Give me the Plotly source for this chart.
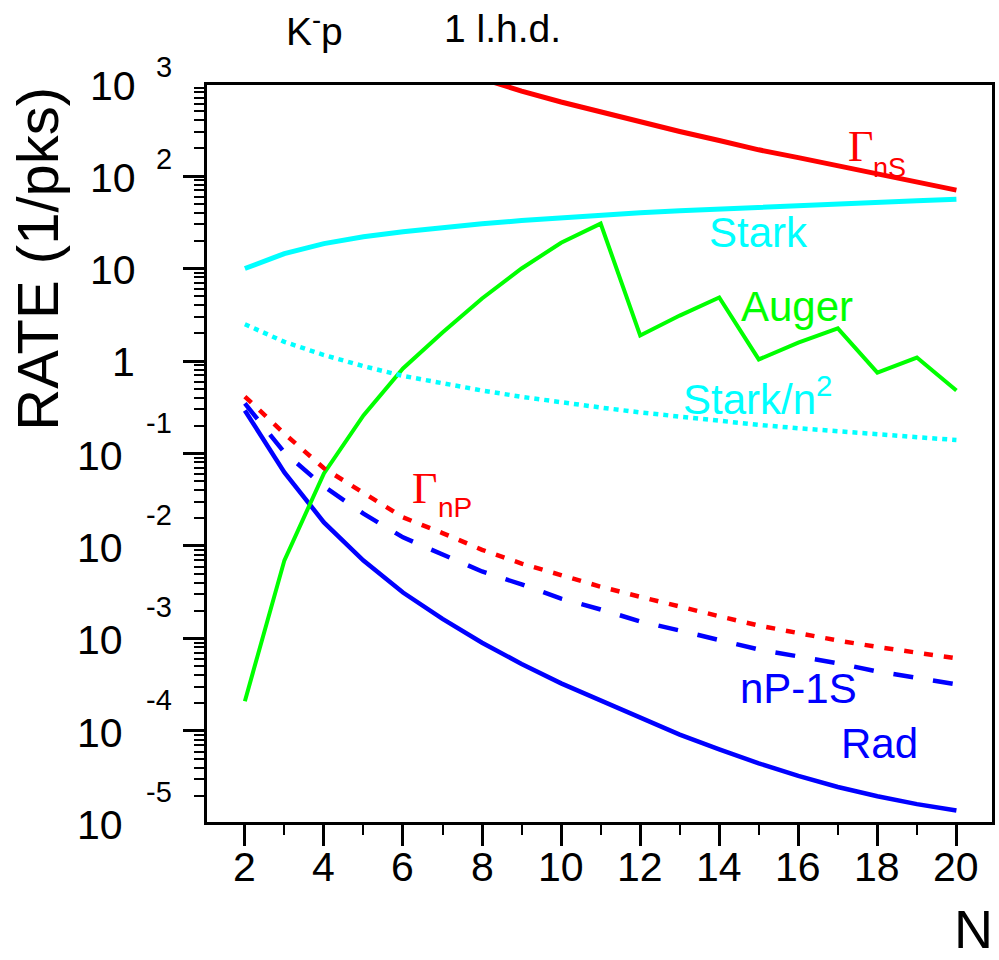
import plotly.graph_objects as go

# ---- data -------------------------------------------------------------
N = list(range(2, 21))

auger = [2.1e-4, 7.0e-3, 0.061, 0.258, 0.83, 2.03, 4.74, 10.0, 19.0, 30.6,
         1.89, 3.1, 4.86, 1.04, 1.58, 2.25, 0.75, 1.09, 0.48]
stark = [10.0, 14.5, 18.6, 22.0, 25.0, 28.0, 30.5, 33.0, 35.5, 38.0,
         40.0, 42.0, 44.0, 46.0, 48.0, 50.0, 52.0, 54.0, 56.0]
stark_over_n2 = [2.5, 1.61, 1.16, 0.88, 0.69, 0.57, 0.48, 0.41, 0.355, 0.314,
                 0.278, 0.249, 0.224, 0.204, 0.1875, 0.173, 0.160, 0.150, 0.140]
gamma_ns_N = list(range(8, 21))
gamma_ns = [1130, 827, 631, 492, 379, 303, 242, 192, 158, 129.5, 105.7, 86, 70.3]
gamma_np = [0.413, 0.164, 0.0692, 0.0372, 0.0204, 0.0138, 0.0091, 0.00646, 0.00479,
            0.00363, 0.00282, 0.00219, 0.00174, 0.00138, 0.00114, 0.00095,
            0.00081, 0.00070, 0.00061]
np_1s = [0.348, 0.1026, 0.044, 0.0224, 0.0124, 0.0081, 0.0053, 0.00384, 0.0027,
         0.00206, 0.00153, 0.00122, 0.00095, 0.00076, 0.00064, 0.00054,
         0.00044, 0.00038, 0.00032]
rad = [0.292, 0.0624, 0.0180, 0.00697, 0.00314, 0.00163, 0.00090, 0.000531,
       0.000327, 0.000212, 0.000138, 9.12e-5, 6.31e-5, 4.47e-5, 3.27e-5,
       2.48e-5, 1.97e-5, 1.62e-5, 1.38e-5]

x_major = list(range(2, 21, 2))
x_minor = list(range(3, 20, 2))
y_exponents = [3, 2, 1, 0, -1, -2, -3, -4, -5]

# ---- style ------------------------------------------------------------
RED = "#ff0000"
GREEN = "#00ff00"
BLUE = "#0000ff"
CYAN = "#00ffff"
SANS = "Liberation Sans, Arial, Helvetica, sans-serif"
SERIF = "Liberation Serif, Times New Roman, serif"

W, H = 999, 960
L, R, T, B = 207, 4, 85, 138
PW, PH = W - L - R, H - T - B
X_RANGE = [1.042, 20.9]
Y_RANGE = [-4.984, 2.984]  # log10 units


def px(x):
    return (x - L) / PW


def py(y):
    return (H - B - y) / PH


def paper_from_log(e):
    return (e - Y_RANGE[0]) / (Y_RANGE[1] - Y_RANGE[0])


fig = go.Figure()


def add_line(x, y, color, dash="solid", width=4.5):
    fig.add_trace(go.Scatter(x=x, y=y, mode="lines",
                             line=dict(color=color, width=width, dash=dash),
                             hoverinfo="skip", showlegend=False))


add_line(N, rad, BLUE, "solid", 4.5)
add_line(N, np_1s, BLUE, "20px,20px", 4.5)
add_line(N, auger, GREEN, "solid", 4)
add_line(N, gamma_np, RED, "9px,11px", 4.5)
add_line(N, stark, CYAN, "solid", 5)
add_line(N, stark_over_n2, CYAN, "5px,5px", 4.5)
add_line(gamma_ns_N, gamma_ns, RED, "solid", 5)

annotations = []


def text(x, y, s, size, color="black", family=SANS, xanchor="left",
         yanchor="middle", **kw):
    d = dict(x=x, y=y, text=s, showarrow=False, xanchor=xanchor,
             yanchor=yanchor, font=dict(size=size, color=color, family=family))
    d.setdefault("xref", "paper")
    d.setdefault("yref", "paper")
    d.update(kw)
    annotations.append(d)


# y tick labels: 10 with the exponent raised to its right
for e in y_exponents:
    yp = paper_from_log(e)
    if e == 1:
        text(px(138), yp, "10", 41, xanchor="right", yshift=-1)
    elif e == 0:
        text(px(137), yp, "1", 41, xanchor="right", yshift=-1)
    else:
        text(px(138 if e > 0 else 125), yp, "10", 41, xanchor="right",
             yshift=-2)
        text(px(174), yp, str(e), 29, xanchor="right",
             yshift=17 if e > 0 else 31)

# x tick labels
for v in x_major:
    text(v, py(867), str(v), 41, xanchor="center", xref="x")

# axis titles
text(px(997), py(929), "N", 54, xanchor="right", borderpad=0)
text(px(36), py(259), "RATE (1/pks)", 58, xanchor="center", textangle=-90)

# header
text(px(284), py(28), "K<sup>-</sup>p", 39)
text(px(443), py(29), "1 l.h.d.", 39)

# curve labels
text(px(848), py(147), "\u0393", 44, RED, SERIF)
text(px(874), py(168), "nS", 27, RED)
text(px(709), py(233), "Stark", 42, CYAN)
text(px(741), py(306), "Auger", 42, GREEN)
text(px(683), py(396), "Stark/n<sup>2</sup>", 42, CYAN)
text(px(411), py(489), "\u0393", 44, RED, SERIF)
text(px(437), py(507), "nP", 28, RED)
text(px(740), py(688), "nP-1S", 42, BLUE)
text(px(841), py(743), "Rad", 42, BLUE)

y_major = [10.0 ** e for e in y_exponents]
y_minor = [m * 10.0 ** e for e in range(-5, 3) for m in range(2, 10)]

fig.update_layout(
    width=W, height=H,
    margin=dict(l=L, r=R, t=T, b=B, pad=0),
    paper_bgcolor="white", plot_bgcolor="white",
    showlegend=False,
    annotations=annotations,
    xaxis=dict(range=X_RANGE, showgrid=False, zeroline=False,
               showline=True, linecolor="black", linewidth=3, mirror=True,
               ticks="outside", tickmode="array", tickvals=x_major,
               ticklen=21, tickwidth=3, tickcolor="black",
               showticklabels=False,
               minor=dict(tickmode="array", tickvals=x_minor, ticks="outside",
                          ticklen=10, tickwidth=2, tickcolor="black",
                          showgrid=False)),
    yaxis=dict(type="log", range=Y_RANGE, showgrid=False,
               zeroline=False, showline=True, linecolor="black", linewidth=3,
               mirror=True, ticks="outside", tickmode="array",
               tickvals=y_major, ticklen=21, tickwidth=3, tickcolor="black",
               showticklabels=False,
               minor=dict(tickmode="array", tickvals=y_minor, ticks="outside",
                          ticklen=10, tickwidth=2, tickcolor="black",
                          showgrid=False)),
)

fig.write_html("out.html")
